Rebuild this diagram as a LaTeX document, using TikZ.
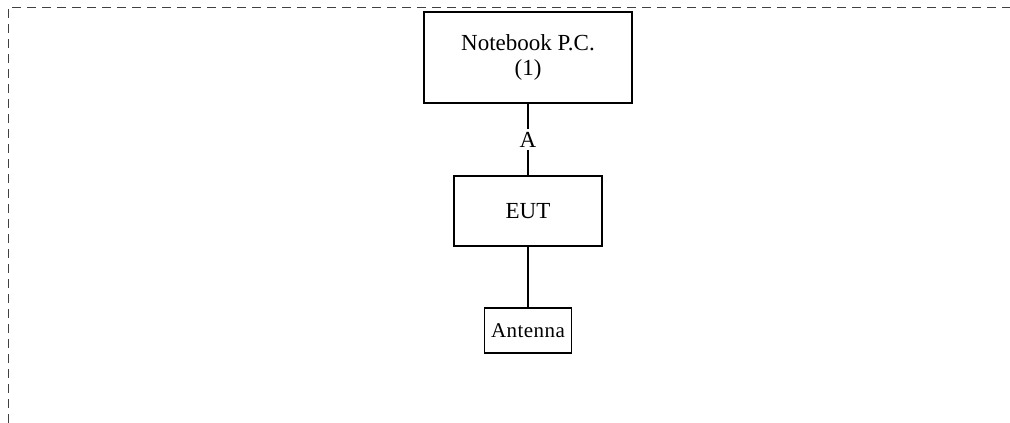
\documentclass[tikz,border=0pt]{standalone}
\usepackage{fontspec}
\setmainfont{Liberation Serif}
\begin{document}
\begin{tikzpicture}
[
x=1pt,y=-1pt,
unit/.style 2 args={draw,line width=1.5pt,inner sep=0pt,minimum width=#1,minimum height=#2,align=center,font=\fontsize{23}{25}\selectfont},
link/.style={line width=1.5pt},
frame/.style={draw=black!75,line width=1pt,dash pattern=on 9pt off 6pt},
]
\useasboundingbox (0,0) rectangle (1010,423);

%Frame of the setup
\coordinate (tl) at (8,7);
\coordinate (tr) at (1010,7);
\coordinate (bl) at (8,423);
\draw[frame] (bl) -- (tl) -- (tr);

%Place the nodes
\node[unit={208pt}{91pt}] (pc) at (528,57.5) {Notebook P.C.\\(1)};
\node[unit={148pt}{70pt}] (eut) at (528,211) {EUT};
\node[unit={87pt}{45pt}] (ant) at (528,330.5) {\fontsize{21}{25}\selectfont\addfontfeature{LetterSpace=2}Antenna};

%Draw the connections
\draw[link] (pc) -- node[fill=white,inner sep=3pt,font=\fontsize{23}{25}\selectfont] {A} (eut);
\draw[link] (eut) -- (ant);
\end{tikzpicture}
\end{document}
